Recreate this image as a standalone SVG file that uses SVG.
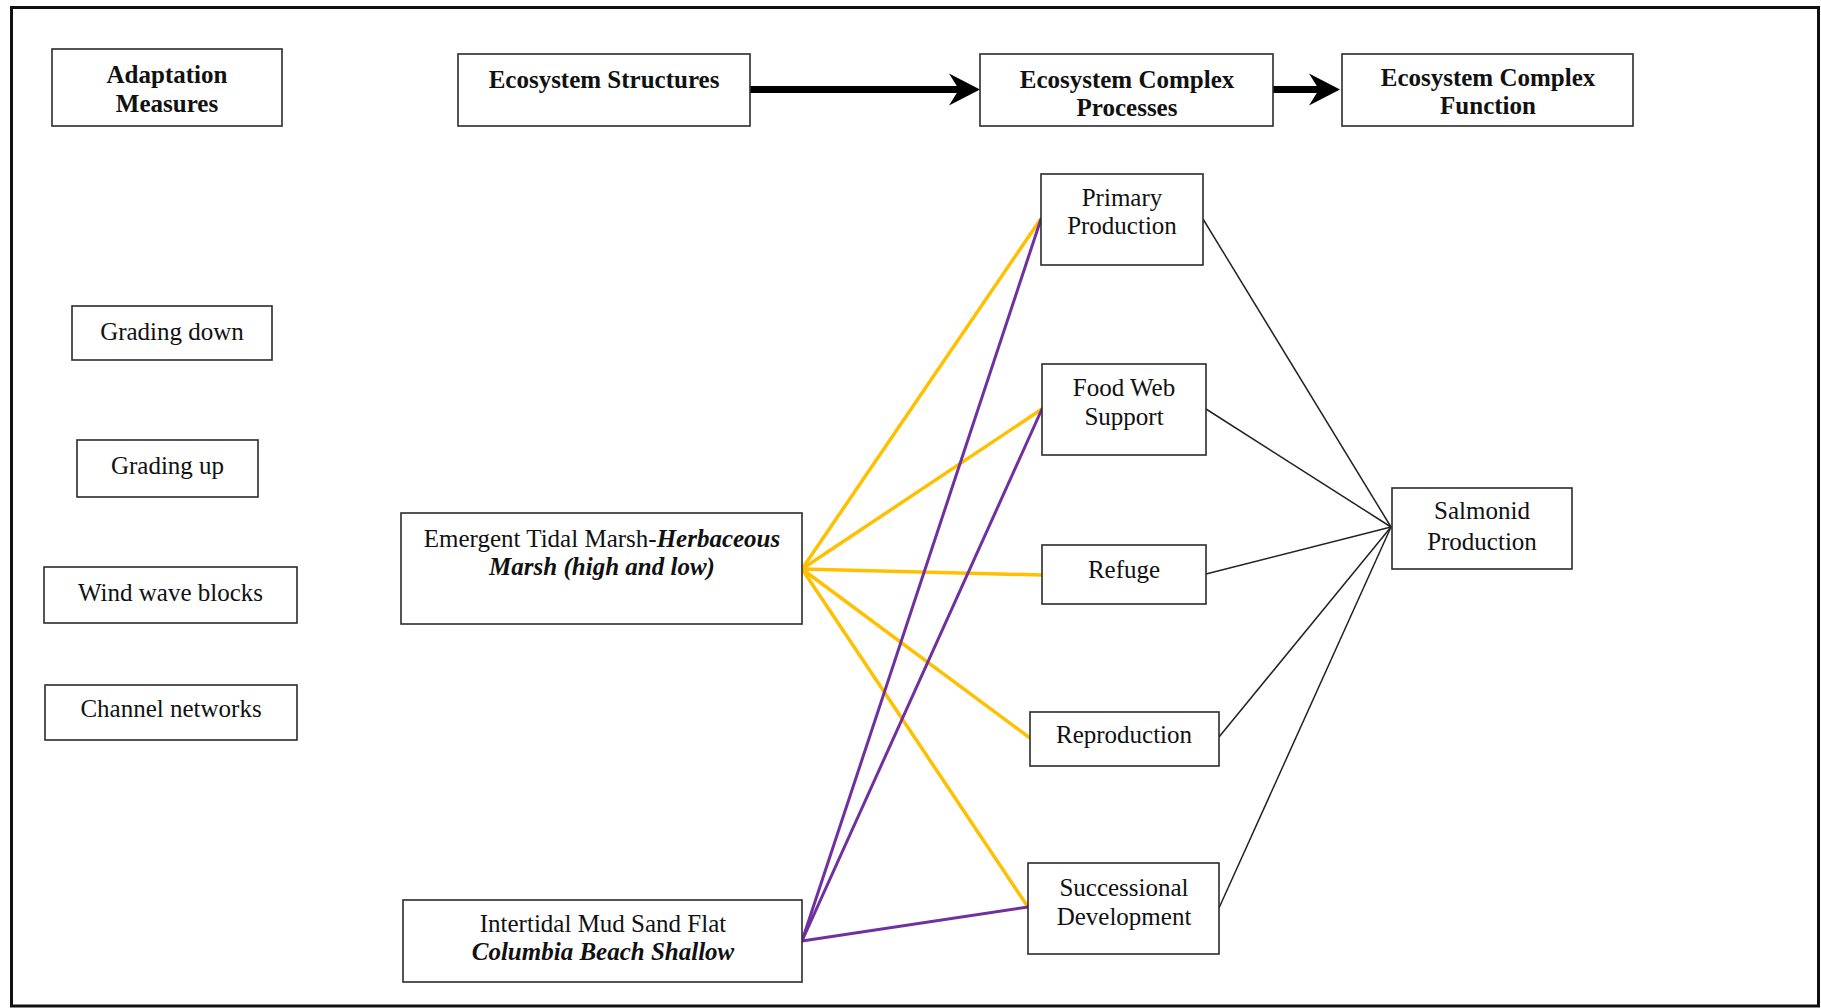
<svg xmlns="http://www.w3.org/2000/svg" width="1821" height="1008" viewBox="0 0 1821 1008">
  <style>
    .box { fill: #ffffff; stroke: #2b2b2b; stroke-width: 1.6; }
    .frame { fill: none; stroke: #111111; stroke-width: 3; }
    text { font-family: 'Liberation Serif', 'DejaVu Serif', serif; font-size: 25px; fill: #111111; text-anchor: middle; }
    .b { font-weight: bold; }
    .bi { font-weight: bold; font-style: italic; }
    .flow { stroke: #000000; stroke-width: 7; fill: none; }
    .gold { stroke: #FFC000; stroke-width: 3.5; fill: none; stroke-linecap: round; }
    .violet { stroke: #7030A0; stroke-width: 3; fill: none; stroke-linecap: round; }
    .thin { stroke: #222222; stroke-width: 1.5; fill: none; }
  </style>
  <defs>
    <marker id="head" markerUnits="userSpaceOnUse" markerWidth="34" markerHeight="36" viewBox="0 0 34 36" refX="18" refY="17" orient="auto">
      <path d="M32,17 L1,1 L11,17 L1,33 Z" fill="#000000"/>
    </marker>
  </defs>

  <rect width="1821" height="1008" fill="#ffffff"/>
  <rect class="frame" x="11.5" y="7.5" width="1807" height="998.5"/>

  <!-- connectors -->
  <g id="connectors">
    <!-- header flow arrows -->
    <line class="flow" x1="750" y1="89.5" x2="966" y2="89.5" marker-end="url(#head)"/>
    <line class="flow" x1="1273" y1="89.5" x2="1326" y2="89.5" marker-end="url(#head)"/>

    <!-- Emergent Tidal Marsh links -->
    <line class="gold" x1="802" y1="569" x2="1040" y2="220"/>
    <line class="gold" x1="802" y1="569" x2="1042" y2="409"/>
    <line class="gold" x1="802" y1="569" x2="1042" y2="575"/>
    <line class="gold" x1="802" y1="569" x2="1030" y2="738"/>
    <line class="gold" x1="802" y1="569" x2="1028" y2="907"/>

    <!-- Intertidal Mud Sand Flat links -->
    <line class="violet" x1="802" y1="941" x2="1041" y2="219"/>
    <line class="violet" x1="802" y1="941" x2="1042" y2="409"/>
    <line class="violet" x1="802" y1="941" x2="1028" y2="907"/>

    <!-- processes to Salmonid Production -->
    <line class="thin" x1="1203" y1="219" x2="1391" y2="527"/>
    <line class="thin" x1="1206" y1="409" x2="1391" y2="527"/>
    <line class="thin" x1="1206" y1="574" x2="1391" y2="527"/>
    <line class="thin" x1="1219" y1="737" x2="1391" y2="527"/>
    <line class="thin" x1="1219" y1="908" x2="1391" y2="527"/>
  </g>

  <g font-family="Liberation Serif, DejaVu Serif, serif">
  <!-- header row -->
  <g id="adaptation-measures">
    <rect class="box" x="52" y="49" width="230" height="77"/>
    <text class="b" x="167" y="83">Adaptation</text>
    <text class="b" x="167" y="112">Measures</text>
  </g>
  <g id="ecosystem-structures">
    <rect class="box" x="458" y="54" width="292" height="72"/>
    <text class="b" x="604" y="88">Ecosystem Structures</text>
  </g>
  <g id="ecosystem-complex-processes">
    <rect class="box" x="980" y="54" width="293" height="72"/>
    <text class="b" x="1127" y="88">Ecosystem Complex</text>
    <text class="b" x="1127" y="116">Processes</text>
  </g>
  <g id="ecosystem-complex-function">
    <rect class="box" x="1342" y="54" width="291" height="72"/>
    <text class="b" x="1488" y="86">Ecosystem Complex</text>
    <text class="b" x="1488" y="114">Function</text>
  </g>

  <!-- adaptation measures -->
  <g id="grading-down">
    <rect class="box" x="72" y="306" width="200" height="54"/>
    <text x="172" y="340">Grading down</text>
  </g>
  <g id="grading-up">
    <rect class="box" x="77" y="440" width="181" height="57"/>
    <text x="167.5" y="474">Grading up</text>
  </g>
  <g id="wind-wave-blocks">
    <rect class="box" x="44" y="567" width="253" height="56"/>
    <text x="170.5" y="601">Wind wave blocks</text>
  </g>
  <g id="channel-networks">
    <rect class="box" x="45" y="685" width="252" height="55"/>
    <text x="171" y="717">Channel networks</text>
  </g>

  <!-- ecosystem structures -->
  <g id="emergent-tidal-marsh">
    <rect class="box" x="401" y="513" width="401" height="111"/>
    <text x="602" y="547">Emergent Tidal Marsh-<tspan class="bi">Herbaceous</tspan></text>
    <text class="bi" x="602" y="575">Marsh (high and low)</text>
  </g>
  <g id="intertidal-mud-sand-flat">
    <rect class="box" x="403" y="900" width="399" height="82"/>
    <text x="603" y="932">Intertidal Mud Sand Flat</text>
    <text class="bi" x="603" y="960">Columbia Beach Shallow</text>
  </g>

  <!-- ecosystem processes -->
  <g id="primary-production">
    <rect class="box" x="1041" y="174" width="162" height="91"/>
    <text x="1122" y="206">Primary</text>
    <text x="1122" y="234">Production</text>
  </g>
  <g id="food-web-support">
    <rect class="box" x="1042" y="364" width="164" height="91"/>
    <text x="1124" y="396">Food Web</text>
    <text x="1124" y="425">Support</text>
  </g>
  <g id="refuge">
    <rect class="box" x="1042" y="545" width="164" height="59"/>
    <text x="1124" y="578">Refuge</text>
  </g>
  <g id="reproduction">
    <rect class="box" x="1030" y="712" width="189" height="54"/>
    <text x="1124" y="743">Reproduction</text>
  </g>
  <g id="successional-development">
    <rect class="box" x="1028" y="863" width="191" height="91"/>
    <text x="1124" y="896">Successional</text>
    <text x="1124" y="925">Development</text>
  </g>

  <!-- ecosystem function -->
  <g id="salmonid-production">
    <rect class="box" x="1392" y="488" width="180" height="81"/>
    <text x="1482" y="519">Salmonid</text>
    <text x="1482" y="550">Production</text>
  </g>
  </g>
</svg>
